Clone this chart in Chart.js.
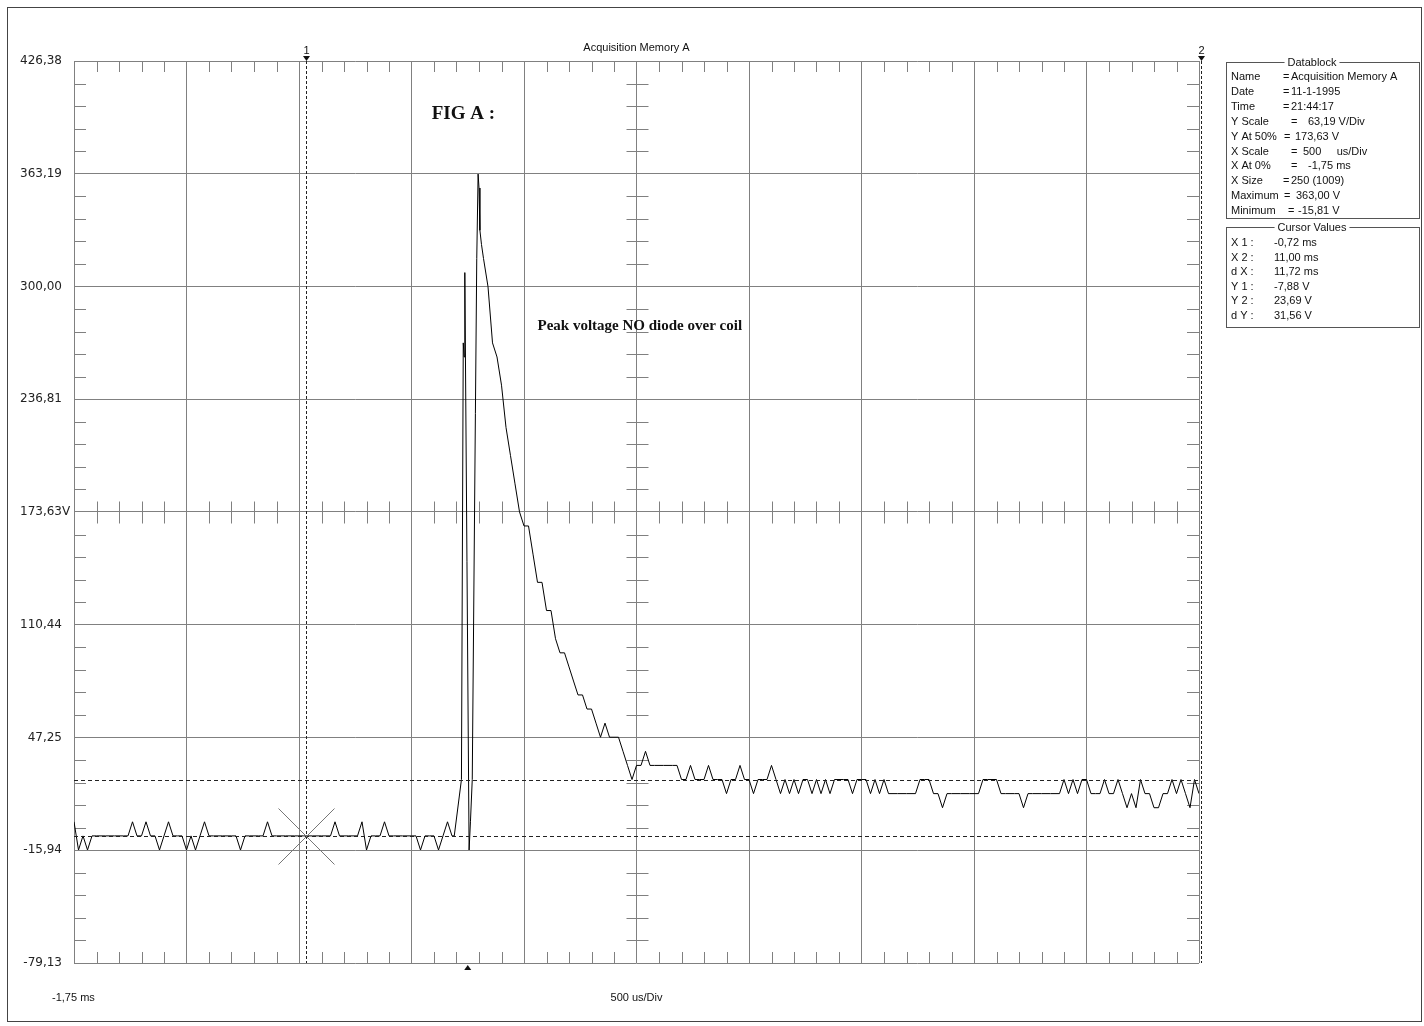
<!DOCTYPE html>
<html>
<head>
<meta charset="utf-8">
<script src="https://cdn.jsdelivr.net/npm/chart.js@4.4.1/dist/chart.umd.min.js"></script>
<style>
html, body { margin: 0; padding: 0; background: #fff; }
#wrap { position: relative; width: 1424px; height: 1026px; }
#frame { position: absolute; left: 7px; top: 7px; width: 1415px; height: 1015px; border: 1px solid #444; box-sizing: border-box; pointer-events: none; }
canvas { position: absolute; left: 0; top: 0; }
</style>
</head>
<body>
<div id="wrap">
<canvas id="scope" width="1424" height="1026"></canvas>
<div id="frame"></div>
</div>
<script>
// axis setup
var xStartMs = -1.75
var xDivMs = 0.5
var xDivCount = 10
var sampleMs = 0.02
var yTickValues = [426.38, 363.19, 300.00, 236.81, 173.63, 110.44, 47.25, -15.94, -79.13]
var yTickLabels = ["426,38", "363,19", "300,00", "236,81", "173,63V", "110,44", "47,25", "-15,94", "-79,13"]

// cursors
var cursorX1 = -0.72
var cursorX2 = 11.00
var cursorY1 = -7.88
var cursorY2 = 23.69
var triggerMs = 0

// trace before the spike, samples 0..84 (volts)
var preVolts = [
    0, -15.8, -7.9, -15.8, -7.9, -7.9, -7.9, -7.9, -7.9, -7.9,
    -7.9, -7.9, -7.9, 0, -7.9, -7.9, 0, -7.9, -7.9, -15.8,
    -7.9, 0, -7.9, -7.9, -7.9, -15.8, -7.9, -15.8, -7.9, 0,
    -7.9, -7.9, -7.9, -7.9, -7.9, -7.9, -7.9, -15.8, -7.9, -7.9,
    -7.9, -7.9, -7.9, 0, -7.9, -7.9, -7.9, -7.9, -7.9, -7.9,
    -7.9, -7.9, -7.9, -7.9, -7.9, -7.9, -7.9, -7.9, 0, -7.9,
    -7.9, -7.9, -7.9, -7.9, 0, -15.8, -7.9, -7.9, -7.9, 0,
    -7.9, -7.9, -7.9, -7.9, -7.9, -7.9, -7.9, -15.8, -7.9, -7.9,
    -7.9, -15.8, -7.9, 0, -7.9
]

// the spike itself, finer than the sample grid
var spikeMs = [-0.060, -0.028, -0.020, -0.016, -0.013, 0.006, 0.012, 0.020, 0.034, 0.040, 0.046, 0.050, 0.054, 0.061]
var spikeVolts = [-7.9, 23.7, 268.4, 260.5, 307.8, -15.8, 0.0, 23.7, 228.9, 315.7, 363.0, 355.2, 331.5, 323.6]

// decay and tail, samples 91..250 (volts)
var postFirst = 91
var postVolts = [
    315.7, 299.9, 268.4, 260.5, 244.7, 221.0, 205.2, 189.4, 173.7,
    165.8, 165.8, 150.0, 134.2, 134.2, 118.4, 118.4, 102.6, 94.7, 94.7,
    86.8, 78.9, 71.1, 71.1, 63.2, 63.2, 55.3, 47.4, 55.3, 47.4,
    47.4, 47.4, 39.5, 31.6, 23.7, 31.6, 31.6, 39.5, 31.6, 31.6,
    31.6, 31.6, 31.6, 31.6, 31.6, 23.7, 23.7, 31.6, 23.7, 23.7,
    23.7, 31.6, 23.7, 23.7, 23.7, 15.8, 23.7, 23.7, 31.6, 23.7,
    23.7, 15.8, 23.7, 23.7, 23.7, 31.6, 23.7, 15.8, 23.7, 15.8,
    23.7, 15.8, 23.7, 23.7, 15.8, 23.7, 15.8, 23.7, 15.8, 23.7,
    23.7, 23.7, 23.7, 15.8, 23.7, 23.7, 23.7, 15.8, 23.7, 15.8,
    23.7, 15.8, 15.8, 15.8, 15.8, 15.8, 15.8, 15.8, 23.7, 23.7,
    23.7, 15.8, 15.8, 7.9, 15.8, 15.8, 15.8, 15.8, 15.8, 15.8,
    15.8, 15.8, 23.7, 23.7, 23.7, 23.7, 15.8, 15.8, 15.8, 15.8,
    15.8, 7.9, 15.8, 15.8, 15.8, 15.8, 15.8, 15.8, 15.8, 15.8,
    23.7, 15.8, 23.7, 15.8, 23.7, 23.7, 15.8, 15.8, 15.8, 23.7,
    15.8, 15.8, 23.7, 15.8, 7.9, 15.8, 7.9, 23.7, 15.8, 15.8,
    7.9, 7.9, 15.8, 15.8, 23.7, 15.8, 23.7, 15.8, 7.9, 23.7,
    15.8
]

// free text on the screen, placed in data units
var notes = [
    { text: "FIG A :", ms: -0.16, volts: 396.4, font: "bold 19px 'Liberation Serif'" },
    { text: "Peak voltage NO diode over coil", ms: 0.31, volts: 277.9, font: "bold 15px 'Liberation Serif'" }
]

var datablock = [
    ["Name", 1283, "=", 1291, "Acquisition Memory A"],
    ["Date", 1283, "=", 1291, "11-1-1995"],
    ["Time", 1283, "=", 1291, "21:44:17"],
    ["Y Scale", 1291, "=", 1308, "63,19 V/Div"],
    ["Y At 50%", 1284, "=", 1295, "173,63 V"],
    ["X Scale", 1291, "=", 1303, "500     us/Div"],
    ["X At 0%", 1291, "=", 1308, "-1,75 ms"],
    ["X Size", 1283, "=", 1291, "250 (1009)"],
    ["Maximum", 1284, "=", 1296, "363,00 V"],
    ["Minimum", 1288, "=", 1298, "-15,81 V"]
]
var cursorBlock = [
    ["X 1 :", "-0,72 ms"],
    ["X 2 :", "11,00 ms"],
    ["d X :", "11,72 ms"],
    ["Y 1 :", "-7,88 V"],
    ["Y 2 :", "23,69 V"],
    ["d Y :", "31,56 V"]
]

function buildTrace(){
    var pts = []
    for(var i = 0; i < preVolts.length; i++){
        pts.push({ x: xStartMs + i*sampleMs, y: preVolts[i] })
    }
    for(var j = 0; j < spikeMs.length; j++){
        pts.push({ x: spikeMs[j], y: spikeVolts[j] })
    }
    for(var k = 0; k < postVolts.length; k++){
        pts.push({ x: xStartMs + (postFirst + k)*sampleMs, y: postVolts[k] })
    }
    return pts
}

var xMax = xStartMs + xDivMs*xDivCount
var yMin = yTickValues[yTickValues.length - 1]
var yMax = yTickValues[0]
var yDiv = (yMax - yMin) / (yTickValues.length - 1)

function crisp(v){ return Math.round(v) + 0.5 }

function line(ctx, x1, y1, x2, y2){
    ctx.beginPath()
    ctx.moveTo(x1, y1)
    ctx.lineTo(x2, y2)
    ctx.stroke()
}

function groupBox(ctx, x, y, w, h, title){
    ctx.strokeStyle = "#555"
    ctx.lineWidth = 1
    ctx.strokeRect(x + 0.5, y + 0.5, w, h)
    ctx.font = "11px 'Liberation Sans'"
    var tw = ctx.measureText(title).width
    var cx = x + 86
    ctx.fillStyle = "#fff"
    ctx.fillRect(cx - tw/2 - 3, y - 6, tw + 6, 12)
    ctx.fillStyle = "#111"
    ctx.textAlign = "center"
    ctx.textBaseline = "middle"
    ctx.fillText(title, cx, y + 1)
}

var scopeDecor = {
    id: "scopeDecor",
    beforeDatasetsDraw: function(chart){
        var ctx = chart.ctx
        var a = chart.chartArea
        var xs = chart.scales.x
        var ys = chart.scales.y
        var cx = crisp(xs.getPixelForValue(xStartMs + xDivMs*xDivCount/2))
        var cy = crisp(ys.getPixelForValue(yTickValues[4]))
        ctx.save()
        ctx.strokeStyle = "#808080"
        ctx.lineWidth = 1
        // minor ticks, 5 per division
        for(var k = 1; k < xDivCount*5; k++){
            if(k % 5 == 0) continue
            var px = crisp(xs.getPixelForValue(xStartMs + k*xDivMs/5))
            line(ctx, px, a.top, px, a.top + 11)
            line(ctx, px, a.bottom, px, a.bottom - 11)
            line(ctx, px, cy - 11, px, cy + 11)
        }
        for(var m = 1; m < (yTickValues.length - 1)*5; m++){
            if(m % 5 == 0) continue
            var py = crisp(ys.getPixelForValue(yMin + m*yDiv/5))
            line(ctx, a.left, py, a.left + 12, py)
            line(ctx, a.right, py, a.right - 12, py)
            line(ctx, cx - 11, py, cx + 11, py)
        }
        ctx.restore()
    },
    afterDatasetsDraw: function(chart){
        var ctx = chart.ctx
        var a = chart.chartArea
        var xs = chart.scales.x
        var ys = chart.scales.y
        ctx.save()

        // horizontal cursors
        ctx.strokeStyle = "#222"
        ctx.lineWidth = 1
        ctx.setLineDash([4, 3])
        var y1 = crisp(ys.getPixelForValue(cursorY1))
        var y2 = crisp(ys.getPixelForValue(cursorY2))
        line(ctx, a.left, y1, a.right + 2, y1)
        line(ctx, a.left, y2, a.right + 2, y2)

        // vertical cursors
        ctx.setLineDash([3, 2])
        var x1 = crisp(xs.getPixelForValue(cursorX1))
        var x2 = crisp(Math.min(xs.getPixelForValue(cursorX2), a.right + 2))
        line(ctx, x1, a.top, x1, a.bottom)
        line(ctx, x2, a.top, x2, a.bottom)
        ctx.setLineDash([])

        // cross at cursor 1 crossing
        ctx.strokeStyle = "#777"
        line(ctx, x1 - 28, y1 - 28, x1 + 28, y1 + 28)
        line(ctx, x1 - 28, y1 + 28, x1 + 28, y1 - 28)

        // cursor numbers with arrows
        ctx.fillStyle = "#111"
        ctx.font = "11px 'Liberation Sans'"
        ctx.textAlign = "center"
        ctx.textBaseline = "middle"
        var marks = [[x1, "1"], [x2, "2"]]
        for(var c = 0; c < marks.length; c++){
            var mx = marks[c][0]
            ctx.fillText(marks[c][1], mx, a.top - 10)
            ctx.beginPath()
            ctx.moveTo(mx - 3.5, a.top - 5)
            ctx.lineTo(mx + 3.5, a.top - 5)
            ctx.lineTo(mx, a.top)
            ctx.closePath()
            ctx.fill()
        }

        // trigger marker
        var tx = xs.getPixelForValue(triggerMs)
        ctx.beginPath()
        ctx.moveTo(tx - 3.5, a.bottom + 7)
        ctx.lineTo(tx + 3.5, a.bottom + 7)
        ctx.lineTo(tx, a.bottom + 2)
        ctx.closePath()
        ctx.fill()

        // y labels
        ctx.font = "12px 'DejaVu Sans'"
        ctx.fillStyle = "#222"
        ctx.textBaseline = "middle"
        for(var i = 0; i < yTickValues.length; i++){
            var ly = ys.getPixelForValue(yTickValues[i])
            var lab = yTickLabels[i]
            var unit = ""
            if(lab.charAt(lab.length - 1) == "V"){ unit = "V"; lab = lab.slice(0, -1) }
            ctx.textAlign = "right"
            ctx.fillText(lab, a.left - 12, ly)
            if(unit){
                ctx.textAlign = "left"
                ctx.fillText(unit, a.left - 12, ly)
            }
        }

        // header and footer text
        ctx.font = "11px 'Liberation Sans'"
        ctx.fillStyle = "#111"
        var mid = (a.left + a.right) / 2
        ctx.textAlign = "center"
        ctx.fillText("Acquisition Memory A", mid, a.top - 13)
        ctx.fillText("500 us/Div", mid, a.bottom + 35)
        ctx.textAlign = "left"
        ctx.fillText("-1,75 ms", 52, a.bottom + 35)

        // notes
        for(var n = 0; n < notes.length; n++){
            ctx.font = notes[n].font
            ctx.fillText(notes[n].text, xs.getPixelForValue(notes[n].ms), ys.getPixelForValue(notes[n].volts))
        }

        // data block
        groupBox(ctx, 1226, 62, 193, 156, "Datablock")
        ctx.font = "11px 'Liberation Sans'"
        ctx.textAlign = "left"
        ctx.textBaseline = "middle"
        for(var d = 0; d < datablock.length; d++){
            var row = datablock[d]
            var ry = 77 + d*14.9
            ctx.fillText(row[0], 1231, ry)
            ctx.fillText(row[2], row[1], ry)
            ctx.fillText(row[4], row[3], ry)
        }
        groupBox(ctx, 1226, 227, 193, 100, "Cursor Values")
        ctx.font = "11px 'Liberation Sans'"
        ctx.textAlign = "left"
        for(var r = 0; r < cursorBlock.length; r++){
            var cyy = 243 + r*14.6
            ctx.fillText(cursorBlock[r][0], 1231, cyy)
            ctx.fillText(cursorBlock[r][1], 1274, cyy)
        }
        ctx.restore()
    }
}

var gridX = []
for(var g = 0; g <= xDivCount; g++) gridX.push(xStartMs + g*xDivMs)

var ctx = document.getElementById("scope").getContext("2d")
var scopeChart = new Chart(ctx, {
    type: "line",
    data: {
        datasets: [{
            label: "Acquisition Memory A",
            data: buildTrace(),
            borderColor: "#000",
            borderWidth: 1,
            pointRadius: 0,
            tension: 0,
            fill: false
        }]
    },
    options: {
        responsive: false,
        animation: false,
        parsing: false,
        layout: { padding: { left: 74, right: 225, top: 61, bottom: 63 } },
        plugins: {
            legend: { display: false },
            tooltip: { enabled: false }
        },
        scales: {
            x: {
                type: "linear",
                min: xStartMs,
                max: xMax,
                afterBuildTicks: function(scale){
                    scale.ticks = gridX.map(function(v){ return { value: v } })
                },
                ticks: { display: false },
                grid: { color: "#808080", lineWidth: 1, drawTicks: false },
                border: { display: false }
            },
            y: {
                type: "linear",
                min: yMin,
                max: yMax,
                afterBuildTicks: function(scale){
                    scale.ticks = yTickValues.map(function(v){ return { value: v } })
                },
                ticks: { display: false },
                grid: { color: "#808080", lineWidth: 1, drawTicks: false },
                border: { display: false }
            }
        }
    },
    plugins: [scopeDecor]
})
</script>
</body>
</html>
